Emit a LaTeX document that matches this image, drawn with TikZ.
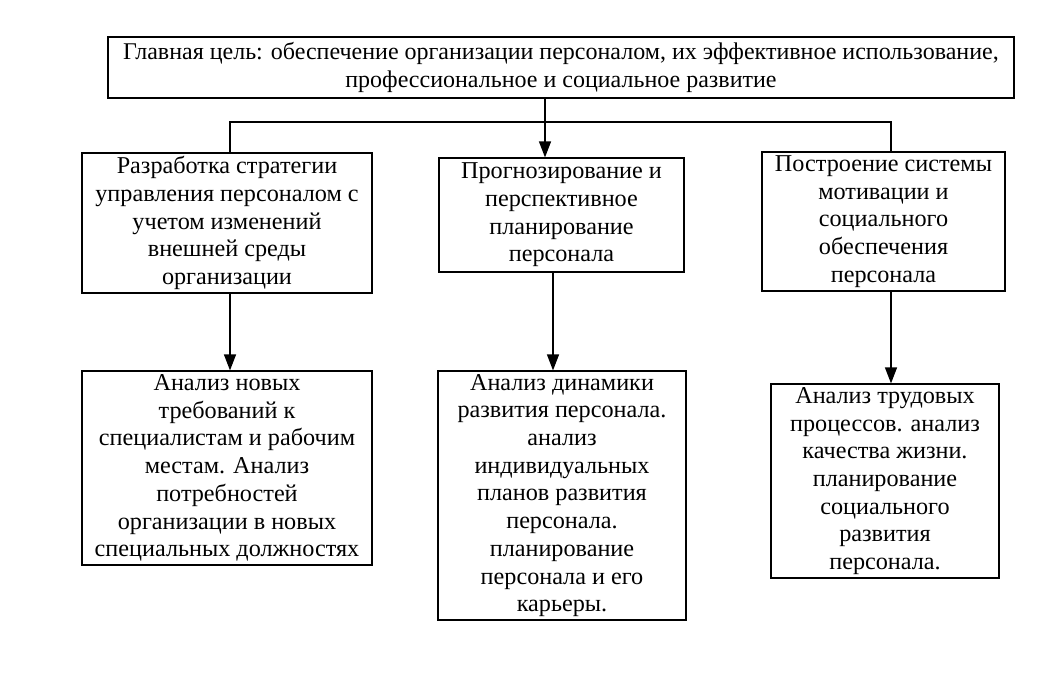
\documentclass[tikz,border=0pt]{standalone}
\usepackage{fontspec}
\setmainfont{Liberation Serif}
\usetikzlibrary{arrows.meta,calc}
\begin{document}
\begin{tikzpicture}[x=1pt,y=-1pt,
  box/.style={draw, line width=1.2pt, inner sep=0pt, align=center, anchor=center,
    font=\fontsize{24.2}{27.7}\selectfont},
  line/.style={line width=1.3pt},
  arr/.style={line width=1.3pt, -{Triangle[width=12pt,length=16pt]}}]
\useasboundingbox (0,0) rectangle (1057,673);
\node[box, minimum width=906pt, minimum height=61pt, font=\fontsize{24}{27.7}\selectfont] (top) at (561,67.5)
  {Главная цель: обеспечение организации персоналом, их эффективное использование,\\профессиональное и социальное развитие};
\node[box, minimum width=290pt, minimum height=140pt] (b1) at (227,223)
  {Разработка стратегии\\управления персоналом с\\учетом изменений\\внешней среды\\организации};
\node[box, minimum width=245pt, minimum height=114pt] (b2) at (561.5,215)
  {Прогнозирование и\\перспективное\\планирование\\персонала};
\node[box, minimum width=243pt, minimum height=139pt] (b3) at (883.5,221.5)
  {Построение системы\\мотивации и\\социального\\обеспечения\\персонала};
\node[box, minimum width=290pt, minimum height=194pt] (b4) at (227,468)
  {Анализ новых\\требований к\\специалистам и рабочим\\местам. Анализ\\потребностей\\организации в новых\\специальных должностях};
\node[box, minimum width=248pt, minimum height=249pt] (b5) at (562,495.5)
  {Анализ динамики\\развития персонала.\\анализ\\индивидуальных\\планов развития\\персонала.\\планирование\\персонала и его\\карьеры.};
\node[box, minimum width=228pt, minimum height=194pt] (b6) at (885,481)
  {Анализ трудовых\\процессов. анализ\\качества жизни.\\планирование\\социального\\развития\\персонала.};
\coordinate (busL) at (230,122);
\coordinate (busR) at (891,122);
\coordinate (xm) at (545,0);
\coordinate (xm2) at (553,0);
\draw[line] (b1.north -| busL) -- (busL) -- (busR) -- (b3.north -| busR);
\draw[arr] (top.south -| xm) -- (b2.north -| xm);
\draw[arr] (b1.south -| busL) -- (b4.north -| busL);
\draw[arr] (b2.south -| xm2) -- (b5.north -| xm2);
\draw[arr] (b3.south -| busR) -- (b6.north -| busR);
\end{tikzpicture}
\end{document}
